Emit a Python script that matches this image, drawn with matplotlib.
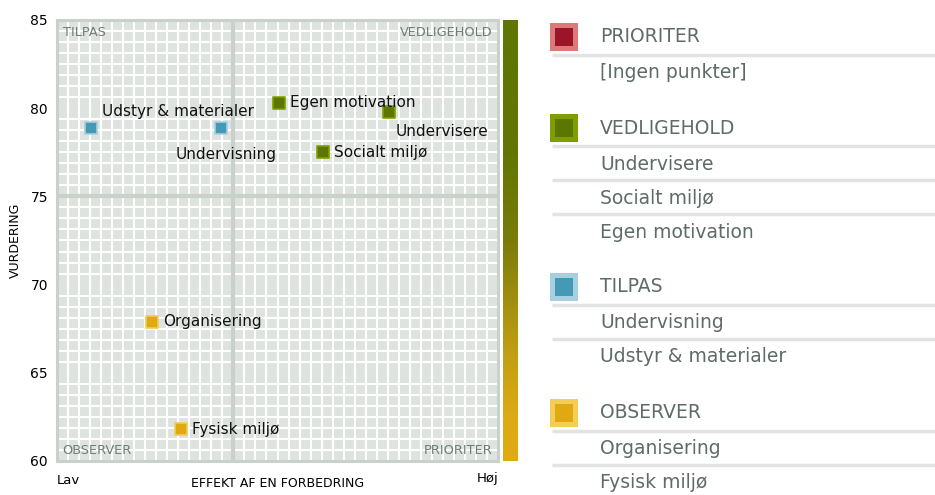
import matplotlib
matplotlib.use("Agg")
import matplotlib.pyplot as plt
import numpy as np
from matplotlib.colors import LinearSegmentedColormap

# ---- data ----
names = ["Udstyr & materialer", "Undervisning", "Egen motivation", "Undervisere",
         "Socialt miljø", "Organisering", "Fysisk miljø"]
effekt = [7.7, 37.2, 50.3, 75.3, 60.3, 21.5, 28.1]      # 0..100 (Lav..Høj)
vurdering = [78.9, 78.9, 80.3, 79.8, 77.5, 67.9, 61.8]
groups = ["TILPAS", "TILPAS", "VEDLIGEHOLD", "VEDLIGEHOLD", "VEDLIGEHOLD", "OBSERVER", "OBSERVER"]
y_ticks = [60, 65, 70, 75, 80, 85]
x_split = 40
y_split = 75

legend_groups = ["PRIORITER", "VEDLIGEHOLD", "TILPAS", "OBSERVER"]
legend_items = {
    "PRIORITER": ["[Ingen punkter]"],
    "VEDLIGEHOLD": ["Undervisere", "Socialt miljø", "Egen motivation"],
    "TILPAS": ["Undervisning", "Udstyr & materialer"],
    "OBSERVER": ["Organisering", "Fysisk miljø"],
}

# ---- styles ----
face = {"PRIORITER": "#9b1528", "VEDLIGEHOLD": "#5e7600", "TILPAS": "#4599b6", "OBSERVER": "#e0a912"}
edge = {"PRIORITER": "#dc7a7a", "VEDLIGEHOLD": "#7f9f00", "TILPAS": "#a6d0df", "OBSERVER": "#f3cd56"}
label_pos = {  # offsets in points, ha, va
    "Udstyr & materialer": (8, 6, "left", "bottom"),
    "Undervisning": (40, -14, "right", "top"),
    "Egen motivation": (8, 0, "left", "center"),
    "Undervisere": (5, -9, "left", "top"),
    "Socialt miljø": (8, 0, "left", "center"),
    "Organisering": (8, 0, "left", "center"),
    "Fysisk miljø": (8, 0, "left", "center"),
}

plt.rcParams['font.family'] = ['DejaVu Sans']
fig = plt.figure(figsize=(9.35, 4.95), dpi=100)
ax = fig.add_axes([57/935, 1-461/495, 441/935, 441/495])
ax.set_xlim(0, 100)
ax.set_ylim(60, 85)
ax.set_facecolor("#dfe3e0")
ax.set_xticks(np.arange(0, 100.01, 2.5), minor=True)
ax.set_yticks(np.arange(60, 85.01, 0.625), minor=True)
ax.grid(which="minor", color="white", linewidth=1.5)
ax.set_axisbelow(True)
ax.set_xticks([])
ax.set_yticks(y_ticks)
ax.tick_params(axis="y", length=0, labelsize=10, pad=6.5)
ax.tick_params(which="minor", length=0)
for s in ax.spines.values():
    s.set_color("#c8d2cb")
    s.set_linewidth(2.2)
ax.axvline(x_split, color="#c8d2cb", lw=3, zorder=1.5)
ax.axhline(y_split, color="#c8d2cb", lw=3, zorder=1.5)

qc = "#6f7d76"
ax.text(1.3, 84.65, "TILPAS", color=qc, fontsize=9.3, ha="left", va="top")
ax.text(98.7, 84.65, "VEDLIGEHOLD", color=qc, fontsize=9.3, ha="right", va="top")
ax.text(1.3, 60.25, "OBSERVER", color=qc, fontsize=9.3, ha="left", va="bottom")
ax.text(98.7, 60.25, "PRIORITER", color=qc, fontsize=9.3, ha="right", va="bottom")

for n, x, y, g in zip(names, effekt, vurdering, groups):
    ax.scatter([x], [y], s=70, marker="s", color=face[g], edgecolors=edge[g], linewidths=1.2, zorder=3)
    dx, dy, ha, va = label_pos[n]
    ax.annotate(n, (x, y), xytext=(dx, dy), textcoords="offset points", ha=ha, va=va,
                fontsize=11, color="#111111", zorder=4)

ax.set_ylabel("VURDERING", fontsize=9)
ax.yaxis.set_label_coords(-0.08, 0.5)
ax.text(0.5, -0.037, "EFFEKT AF EN FORBEDRING", transform=ax.transAxes, ha="center", va="top", fontsize=9)
ax.text(0.0, -0.03, "Lav", transform=ax.transAxes, ha="left", va="top", fontsize=9.5)
ax.text(1.0, -0.025, "Høj", transform=ax.transAxes, ha="right", va="top", fontsize=9.5)

# color bar
cax = fig.add_axes([503/935, 1-461/495, 15/935, 441/495])
cmap = LinearSegmentedColormap.from_list(
    "g", [(0, "#5f7600"), (0.3, "#617600"), (0.5, "#7a7c0a"), (0.75, "#c09e14"), (0.9, "#dcaa14"), (1, "#e0ab15")])
grad = np.linspace(0, 1, 256).reshape(-1, 1)
cax.imshow(grad, aspect="auto", cmap=cmap, extent=[0, 1, 0, 1])
cax.set_axis_off()

# legend panel
lax = fig.add_axes([0, 0, 1, 1], facecolor="none")
lax.set_xlim(0, 935)
lax.set_ylim(495, 0)
lax.set_axis_off()
tc = "#5f6b66"
group_y = {"PRIORITER": 37, "VEDLIGEHOLD": 128, "TILPAS": 287, "OBSERVER": 413}
step = 34
for g in legend_groups:
    gy = group_y[g]
    lax.add_patch(plt.Rectangle((550, gy - 14), 28, 28, facecolor=edge[g], edgecolor="none"))
    lax.add_patch(plt.Rectangle((555, gy - 9), 18, 18, facecolor=face[g], edgecolor="none"))
    lax.text(600, gy, g, color=tc, fontsize=13.5, va="center", ha="left")
    for i, it in enumerate(legend_items[g]):
        ly = gy + 18 + i * step
        lax.plot([552, 935], [ly, ly], color="#e3e3e3", lw=2.5, solid_capstyle="butt")
        lax.text(600, ly + 18, it, color=tc, fontsize=13.5, va="center", ha="left")

fig.savefig("out.png", dpi=100)
